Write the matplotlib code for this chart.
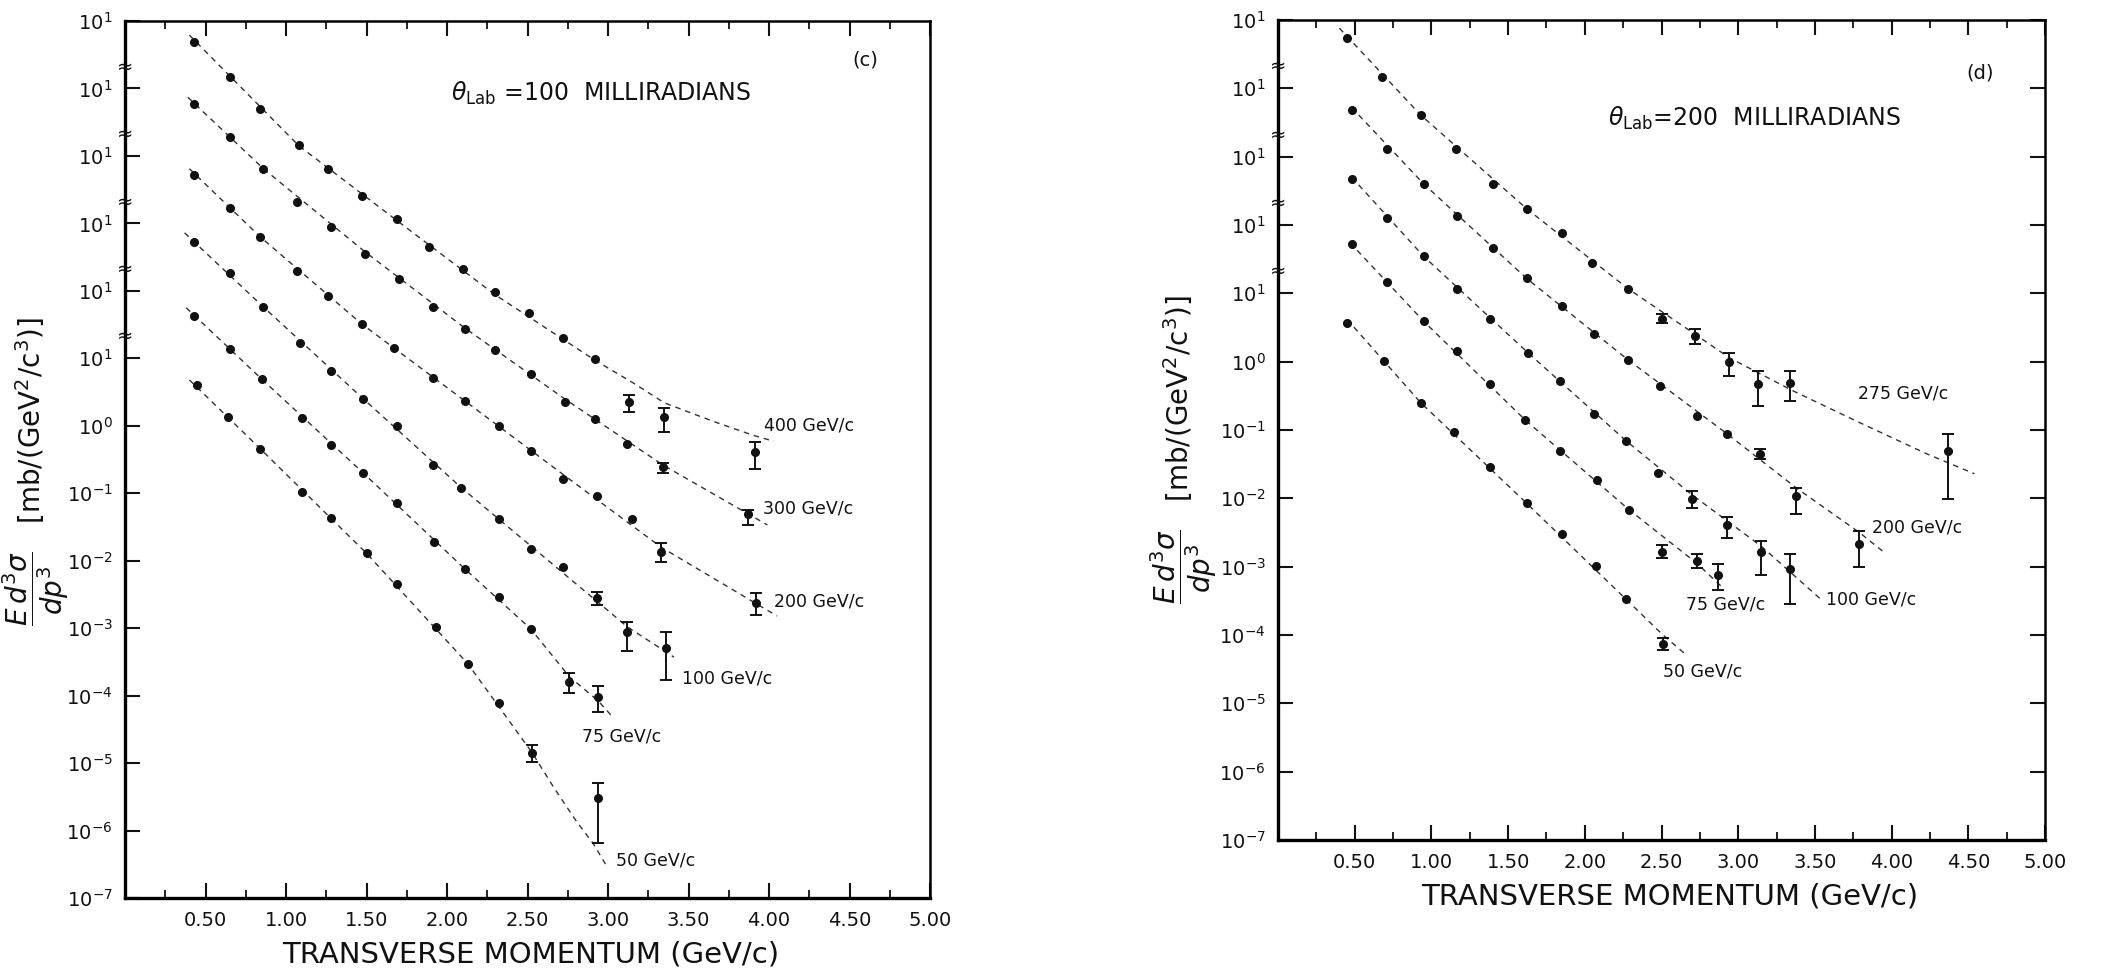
import matplotlib
matplotlib.use("Agg")
import matplotlib.pyplot as plt
import matplotlib.transforms as mtransforms
import numpy as np

nan = np.nan

# ---- panel (c): theta_lab = 100 mrad (log10 of value on the stacked axis) ----
c400_x = [0.43, 0.65, 0.84, 1.08, 1.26, 1.47, 1.69, 1.89, 2.10, 2.30, 2.51, 2.72, 2.92, 3.13, 3.35, 3.91]
c400_y = [5.69, 5.17, 4.70, 4.16, 3.81, 3.41, 3.06, 2.65, 2.32, 1.98, 1.67, 1.30, 0.99, 0.35, 0.13, -0.39]
c400_lo = [nan] * 13 + [0.20, -0.09, -0.64]
c400_hi = [nan] * 13 + [0.46, 0.26, -0.24]
c400_fit_x = [0.40, 1.08, 1.69, 2.30, 2.92, 3.16, 3.35, 3.66, 3.90, 4.03]
c400_fit_y = [5.79, 4.15, 3.04, 1.94, 0.97, 0.63, 0.34, 0.06, -0.14, -0.23]

c300_x = [0.43, 0.65, 0.86, 1.07, 1.28, 1.49, 1.70, 1.91, 2.11, 2.30, 2.52, 2.73, 2.92, 3.12, 3.34, 3.87]
c300_y = [4.77, 4.28, 3.81, 3.32, 2.95, 2.55, 2.18, 1.76, 1.43, 1.12, 0.77, 0.35, 0.10, -0.27, -0.61, -1.31]
c300_lo = [nan] * 14 + [-0.70, -1.47]
c300_hi = [nan] * 14 + [-0.55, -1.25]
c300_fit_x = [0.39, 0.86, 1.49, 2.11, 2.73, 3.34, 3.99]
c300_fit_y = [4.87, 3.81, 2.58, 1.45, 0.40, -0.58, -1.47]

c200_x = [0.43, 0.65, 0.84, 1.07, 1.26, 1.47, 1.67, 1.91, 2.11, 2.32, 2.52, 2.72, 2.93, 3.15, 3.33, 3.92]
c200_y = [3.72, 3.23, 2.80, 2.29, 1.92, 1.51, 1.15, 0.71, 0.37, 0.00, -0.37, -0.79, -1.04, -1.38, -1.87, -2.63]
c200_lo = [nan] * 14 + [-2.02, -2.81]
c200_hi = [nan] * 14 + [-1.74, -2.48]
c200_fit_x = [0.40, 0.84, 1.47, 2.11, 2.72, 3.33, 4.05]
c200_fit_y = [3.81, 2.80, 1.51, 0.37, -0.72, -1.80, -2.82]

c100_x = [0.43, 0.65, 0.86, 1.09, 1.28, 1.48, 1.69, 1.91, 2.09, 2.32, 2.52, 2.72, 2.93, 3.12, 3.36]
c100_y = [2.72, 2.26, 1.76, 1.23, 0.81, 0.40, 0.00, -0.58, -0.92, -1.38, -1.83, -2.09, -2.55, -3.06, -3.29]
c100_lo = [nan] * 12 + [-2.66, -3.34, -3.77]
c100_hi = [nan] * 12 + [-2.47, -2.91, -3.06]
c100_fit_x = [0.37, 0.86, 1.48, 2.09, 2.72, 3.12, 3.41]
c100_fit_y = [2.86, 1.76, 0.40, -0.92, -2.18, -2.98, -3.43]

c75_x = [0.43, 0.65, 0.85, 1.10, 1.28, 1.48, 1.69, 1.92, 2.11, 2.32, 2.52, 2.76, 2.94]
c75_y = [1.63, 1.14, 0.69, 0.12, -0.29, -0.70, -1.14, -1.72, -2.12, -2.54, -3.01, -3.80, -4.02]
c75_lo = [nan] * 11 + [-3.96, -4.24]
c75_hi = [nan] * 11 + [-3.66, -3.86]
c75_fit_x = [0.38, 0.85, 1.48, 2.11, 2.52, 2.76, 2.94, 3.03]
c75_fit_y = [1.75, 0.69, -0.70, -2.12, -3.01, -3.72, -4.08, -4.32]

c50_x = [0.45, 0.64, 0.84, 1.10, 1.28, 1.50, 1.69, 1.93, 2.13, 2.32, 2.53, 2.94]
c50_y = [0.60, 0.13, -0.34, -0.98, -1.37, -1.89, -2.35, -2.98, -3.53, -4.11, -4.85, -5.52]
c50_lo = [nan] * 10 + [-4.98, -6.19]
c50_hi = [nan] * 10 + [-4.73, -5.30]
c50_fit_x = [0.40, 0.84, 1.50, 2.13, 2.53, 2.66, 2.80, 2.91, 3.00]
c50_fit_y = [0.68, -0.34, -1.89, -3.53, -4.85, -5.35, -5.85, -6.20, -6.56]

# ---- panel (d): theta_lab = 200 mrad ----
d275_x = [0.45, 0.68, 0.93, 1.16, 1.40, 1.62, 1.85, 2.05, 2.28, 2.50, 2.72, 2.94, 3.13, 3.34, 4.37]
d275_y = [4.74, 4.16, 3.61, 3.11, 2.60, 2.24, 1.89, 1.44, 1.07, 0.63, 0.38, -0.01, -0.32, -0.31, -1.30]
d275_lo = [nan] * 9 + [0.56, 0.26, -0.21, -0.65, -0.57, -2.01]
d275_hi = [nan] * 9 + [0.70, 0.48, 0.13, -0.13, -0.13, -1.06]
d275_fit_x = [0.40, 0.93, 1.62, 2.28, 2.72, 2.94, 3.36, 3.79, 4.23, 4.54]
d275_fit_y = [4.88, 3.61, 2.24, 1.07, 0.40, 0.06, -0.43, -0.89, -1.35, -1.64]

d200_x = [0.48, 0.71, 0.95, 1.17, 1.40, 1.62, 1.85, 2.06, 2.28, 2.49, 2.73, 2.93, 3.14, 3.38, 3.79]
d200_y = [3.68, 3.11, 2.60, 2.13, 1.67, 1.22, 0.81, 0.41, 0.03, -0.35, -0.79, -1.06, -1.35, -1.96, -2.67]
d200_lo = [nan] * 12 + [-1.42, -2.23, -3.01]
d200_hi = [nan] * 12 + [-1.28, -1.85, -2.48]
d200_fit_x = [0.48, 0.95, 1.62, 2.28, 2.93, 3.38, 3.79, 3.94]
d200_fit_y = [3.72, 2.60, 1.22, 0.03, -1.06, -1.85, -2.50, -2.77]

d100_x = [0.48, 0.71, 0.95, 1.17, 1.38, 1.63, 1.84, 2.06, 2.27, 2.48, 2.70, 2.93, 3.15, 3.34]
d100_y = [2.68, 2.10, 1.54, 1.07, 0.63, 0.13, -0.28, -0.76, -1.16, -1.63, -2.01, -2.39, -2.79, -3.04]
d100_lo = [nan] * 10 + [-2.14, -2.58, -3.12, -3.55]
d100_hi = [nan] * 10 + [-1.89, -2.27, -2.62, -2.82]
d100_fit_x = [0.48, 0.95, 1.63, 2.27, 2.70, 3.15, 3.54]
d100_fit_y = [2.70, 1.54, 0.13, -1.16, -1.95, -2.70, -3.48]

d75_x = [0.48, 0.71, 0.95, 1.17, 1.38, 1.61, 1.84, 2.08, 2.29, 2.50, 2.73, 2.87]
d75_y = [1.72, 1.16, 0.59, 0.15, -0.32, -0.85, -1.30, -1.73, -2.17, -2.79, -2.92, -3.12]
d75_lo = [nan] * 9 + [-2.87, -3.02, -3.34]
d75_hi = [nan] * 9 + [-2.68, -2.82, -2.96]
d75_fit_x = [0.47, 0.95, 1.61, 2.29, 2.73, 2.90]
d75_fit_y = [1.74, 0.59, -0.85, -2.17, -2.95, -3.31]

d50_x = [0.45, 0.69, 0.93, 1.15, 1.38, 1.62, 1.85, 2.07, 2.27, 2.51]
d50_y = [0.57, 0.01, -0.60, -1.03, -1.54, -2.07, -2.52, -2.99, -3.48, -4.13]
d50_lo = [nan] * 9 + [-4.22]
d50_hi = [nan] * 9 + [-4.05]
d50_fit_x = [0.45, 0.93, 1.62, 2.27, 2.51, 2.65]
d50_fit_y = [0.62, -0.60, -2.07, -3.48, -4.00, -4.27]

x_ticks = [0.5, 1.0, 1.5, 2.0, 2.5, 3.0, 3.5, 4.0, 4.5, 5.0]

panel_c = [
    ("400 GeV/c", c400_x, c400_y, c400_lo, c400_hi, c400_fit_x, c400_fit_y, (3.97, 0.01)),
    ("300 GeV/c", c300_x, c300_y, c300_lo, c300_hi, c300_fit_x, c300_fit_y, (3.96, -1.22)),
    ("200 GeV/c", c200_x, c200_y, c200_lo, c200_hi, c200_fit_x, c200_fit_y, (4.03, -2.61)),
    ("100 GeV/c", c100_x, c100_y, c100_lo, c100_hi, c100_fit_x, c100_fit_y, (3.46, -3.75)),
    ("75 GeV/c", c75_x, c75_y, c75_lo, c75_hi, c75_fit_x, c75_fit_y, (2.84, -4.61)),
    ("50 GeV/c", c50_x, c50_y, c50_lo, c50_hi, c50_fit_x, c50_fit_y, (3.05, -6.44)),
]
panel_d = [
    ("275 GeV/c", d275_x, d275_y, d275_lo, d275_hi, d275_fit_x, d275_fit_y, (3.78, -0.47)),
    ("200 GeV/c", d200_x, d200_y, d200_lo, d200_hi, d200_fit_x, d200_fit_y, (3.87, -2.43)),
    ("100 GeV/c", d100_x, d100_y, d100_lo, d100_hi, d100_fit_x, d100_fit_y, (3.57, -3.48)),
    ("75 GeV/c", d75_x, d75_y, d75_lo, d75_hi, d75_fit_x, d75_fit_y, (2.66, -3.55)),
    ("50 GeV/c", d50_x, d50_y, d50_lo, d50_hi, d50_fit_x, d50_fit_y, (2.51, -4.53)),
]

INK = "#111111"


def draw_panel(ax, series, top_exp, right_ticks):
    for name, x, y, lo, hi, fx, fy, lab in series:
        x = np.array(x)
        y = 10.0 ** np.array(y)
        lo = 10.0 ** np.array(lo)
        hi = 10.0 ** np.array(hi)
        ax.plot(fx, 10.0 ** np.array(fy), color="#333333", lw=1.0,
                linestyle=(0, (4, 3.5)))
        ax.plot(x, y, "o", color=INK, ms=5.5)
        m = np.isfinite(lo)
        ax.errorbar(x[m], y[m], yerr=[y[m] - lo[m], hi[m] - y[m]], fmt="none",
                    ecolor=INK, elinewidth=1.4, capsize=4, capthick=1.4)
        ax.text(lab[0], 10.0 ** lab[1], name, fontsize=12.5, ha="left",
                va="center", color=INK)

    ax.set_yscale("log")
    ax.set_xlim(0, 5)
    ax.set_ylim(1e-7, 10.0 ** top_exp)

    exps = list(range(-7, top_exp + 1))
    ax.set_yticks([10.0 ** k for k in exps])
    ax.set_yticklabels(["$10^{%d}$" % (k if k <= 0 else 1) for k in exps])
    ax.yaxis.set_minor_locator(matplotlib.ticker.NullLocator())
    ax.set_xticks(x_ticks)
    ax.set_xticklabels(["%.2f" % v for v in x_ticks])
    ax.set_xticks(np.arange(0.25, 5.0, 0.5), minor=True)

    ax.tick_params(which="both", direction="in", top=True, right=right_ticks,
                   labelsize=14, colors=INK, pad=9)
    ax.tick_params(which="major", length=11, width=1.5)
    ax.tick_params(which="minor", length=6, width=1.3)
    for side in ["left", "bottom"]:
        ax.spines[side].set_linewidth(2.4)
    for side in ["top", "right"]:
        ax.spines[side].set_linewidth(1.8)

    # axis break marks between the shifted decades, sitting on the spine
    trans = mtransforms.blended_transform_factory(ax.transAxes, ax.transData)
    for k in range(1, top_exp):
        ax.text(0.0, 10.0 ** (k + 0.32), "\u2248", transform=trans, ha="center",
                va="center", fontsize=14, color=INK, clip_on=False)


fig = plt.figure(figsize=(21.28, 9.76), dpi=100)
fig.patch.set_facecolor("white")

ax_c = fig.add_axes([125 / 2128, 78 / 976, 805 / 2128, 877 / 976])
ax_d = fig.add_axes([1278 / 2128, 136 / 976, 767 / 2128, 820 / 976])

draw_panel(ax_c, panel_c, 6, False)
draw_panel(ax_d, panel_d, 5, True)

ax_c.text(0.405, 0.918, r"$\theta_{\rm Lab}$ =100  MILLIRADIANS", transform=ax_c.transAxes,
          fontsize=17, ha="left", va="center", color=INK)
ax_c.text(0.92, 0.955, "(c)", transform=ax_c.transAxes, fontsize=14, ha="center",
          va="center", color=INK)
ax_d.text(0.43, 0.88, r"$\theta_{\rm Lab}$=200  MILLIRADIANS", transform=ax_d.transAxes,
          fontsize=17, ha="left", va="center", color=INK)
ax_d.text(0.915, 0.935, "(d)", transform=ax_d.transAxes, fontsize=14, ha="center",
          va="center", color=INK)

ylab = r"$\dfrac{E\,d^3\sigma}{dp^3}$   [mb/(GeV$^2$/c$^3$)]"
fig.text(36 / 2128, 1 - 472 / 976, ylab, rotation=90, fontsize=20, ha="center",
         va="center", color=INK)
fig.text(1184 / 2128, 1 - 450 / 976, ylab, rotation=90, fontsize=20, ha="center",
         va="center", color=INK)
fig.text(531 / 2128, 1 - 955 / 976, "TRANSVERSE MOMENTUM (GeV/c)", fontsize=21,
         ha="center", va="center", color=INK)
fig.text(1670 / 2128, 1 - 897 / 976, "TRANSVERSE MOMENTUM (GeV/c)", fontsize=21,
         ha="center", va="center", color=INK)

fig.savefig("out.png", dpi=100, facecolor="white")
